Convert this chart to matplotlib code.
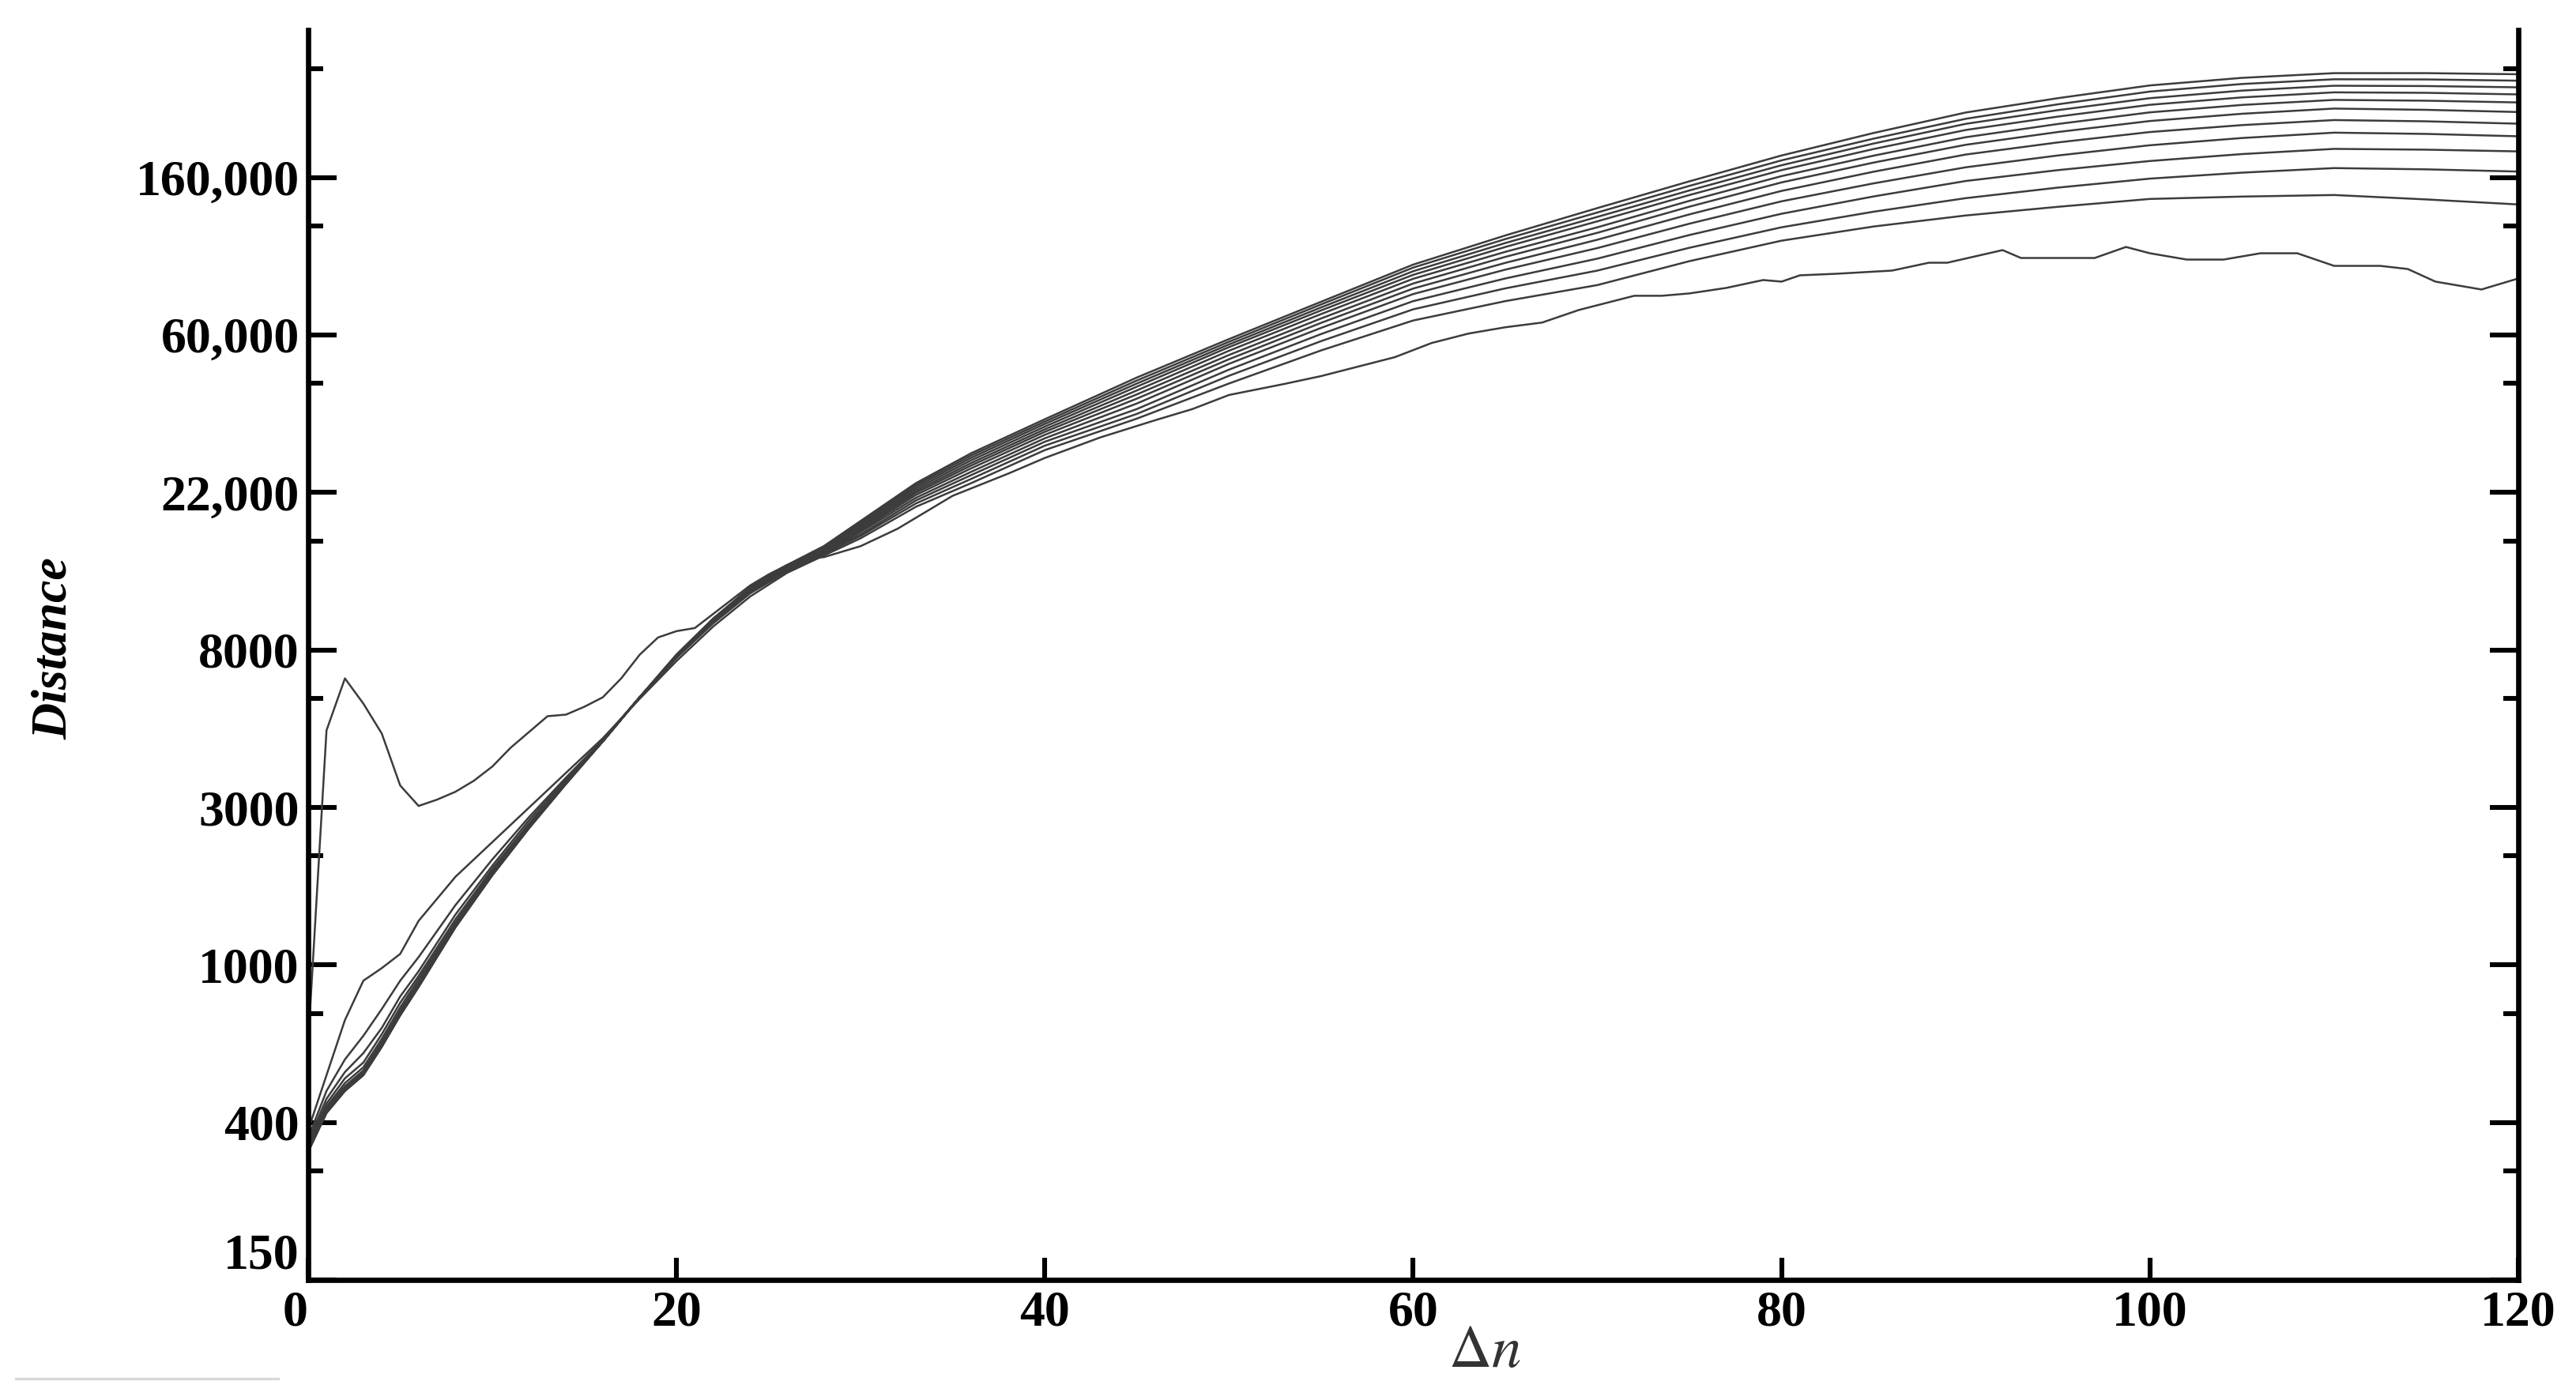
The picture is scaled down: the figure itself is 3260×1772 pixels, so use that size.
import numpy as np
import matplotlib
matplotlib.use("Agg")
import matplotlib.pyplot as plt
from matplotlib.lines import Line2D

plt.rcParams['font.family'] = ['Liberation Serif', 'DejaVu Serif']
plt.rcParams['mathtext.fontset'] = 'stix'

# y values are ln(Distance); the axis is labelled with the rounded e^k values
y_ticks = [5, 6, 7, 8, 9, 10, 11, 12]
y_tick_labels = ['150', '400', '1000', '3000', '8000', '22,000', '60,000', '160,000']
y_minor = [5.693, 6.693, 7.693, 8.693, 9.693, 10.693, 11.693, 12.693]
x_ticks = [0, 20, 40, 60, 80, 100, 120]

# common x grid of the smooth curves
x_smooth = [0, 1, 2, 3, 4, 5, 6, 8, 10, 12, 14, 16, 18, 20, 22, 24, 26, 28,
            30, 33, 36, 40, 45, 50, 55, 60, 65, 70, 75, 80, 85, 90, 95, 100,
            105, 110, 115, 120]

ln_c02 = [5.95, 6.30, 6.65, 6.90, 6.98, 7.07, 7.28, 7.56, 7.78, 8.00, 8.22, 8.44, 8.69, 8.93, 9.15, 9.34, 9.49, 9.60,
          9.71, 9.91, 10.06, 10.27, 10.47, 10.693, 10.903, 11.093, 11.216, 11.318, 11.47, 11.60, 11.69, 11.76,
          11.815, 11.865, 11.88, 11.89, 11.862, 11.83]
ln_c03 = [5.90, 6.20, 6.40, 6.55, 6.72, 6.90, 7.05, 7.38, 7.67, 7.94, 8.19, 8.43, 8.70, 8.95, 9.17, 9.36, 9.50, 9.61,
          9.725, 9.931, 10.087, 10.298, 10.50, 10.742, 10.962, 11.164, 11.297, 11.41, 11.555, 11.685, 11.784,
          11.87, 11.937, 11.994, 12.032, 12.061, 12.053, 12.039]
ln_c04 = [5.88, 6.15, 6.32, 6.44, 6.60, 6.80, 6.96, 7.32, 7.63, 7.92, 8.18, 8.43, 8.70, 8.95, 9.18, 9.37, 9.51, 9.62,
          9.735, 9.95, 10.111, 10.323, 10.531, 10.781, 11.007, 11.216, 11.36, 11.486, 11.636, 11.771, 11.881,
          11.979, 12.048, 12.106, 12.15, 12.183, 12.178, 12.167]
ln_c05 = [5.86, 6.12, 6.28, 6.38, 6.56, 6.76, 6.93, 7.29, 7.61, 7.90, 8.17, 8.42, 8.70, 8.96, 9.18, 9.37, 9.51, 9.62,
          9.75, 9.967, 10.132, 10.345, 10.566, 10.818, 11.046, 11.261, 11.416, 11.553, 11.708, 11.85, 11.964,
          12.066, 12.141, 12.206, 12.252, 12.286, 12.278, 12.263]
ln_c06 = [5.85, 6.10, 6.25, 6.35, 6.53, 6.73, 6.91, 7.27, 7.60, 7.89, 8.17, 8.42, 8.70, 8.96, 9.19, 9.38, 9.52, 9.63,
          9.76, 9.985, 10.154, 10.367, 10.597, 10.847, 11.078, 11.296, 11.459, 11.606, 11.767, 11.916, 12.038,
          12.147, 12.224, 12.29, 12.334, 12.366, 12.358, 12.343]
ln_c07 = [5.84, 6.09, 6.23, 6.33, 6.51, 6.71, 6.89, 7.26, 7.59, 7.89, 8.16, 8.42, 8.70, 8.96, 9.19, 9.38, 9.52, 9.63,
          9.77, 9.999, 10.172, 10.386, 10.624, 10.874, 11.106, 11.328, 11.497, 11.65, 11.816, 11.97, 12.096,
          12.209, 12.29, 12.36, 12.406, 12.439, 12.431, 12.417]
ln_c08 = [5.83, 6.08, 6.22, 6.32, 6.50, 6.70, 6.88, 7.25, 7.58, 7.88, 8.16, 8.42, 8.70, 8.96, 9.19, 9.38, 9.52, 9.64,
          9.78, 10.011, 10.188, 10.402, 10.649, 10.901, 11.134, 11.358, 11.529, 11.685, 11.853, 12.01, 12.14,
          12.257, 12.341, 12.415, 12.462, 12.494, 12.489, 12.478]
ln_c09 = [5.83, 6.07, 6.21, 6.31, 6.49, 6.69, 6.87, 7.25, 7.58, 7.88, 8.16, 8.42, 8.70, 8.96, 9.19, 9.38, 9.53, 9.64,
          9.79, 10.024, 10.205, 10.419, 10.673, 10.924, 11.157, 11.383, 11.56, 11.723, 11.89, 12.048, 12.182,
          12.303, 12.388, 12.463, 12.51, 12.542, 12.539, 12.529]
ln_c10 = [5.82, 6.07, 6.21, 6.31, 6.49, 6.69, 6.87, 7.24, 7.57, 7.87, 8.15, 8.42, 8.70, 8.97, 9.20, 9.39, 9.53, 9.65,
          9.80, 10.037, 10.221, 10.436, 10.693, 10.941, 11.176, 11.406, 11.585, 11.751, 11.919, 12.079, 12.217,
          12.342, 12.429, 12.505, 12.553, 12.584, 12.582, 12.574]
ln_c11 = [5.82, 6.06, 6.20, 6.30, 6.48, 6.68, 6.86, 7.24, 7.57, 7.87, 8.15, 8.42, 8.70, 8.97, 9.20, 9.39, 9.53, 9.65,
          9.81, 10.049, 10.236, 10.451, 10.712, 10.958, 11.195, 11.429, 11.61, 11.779, 11.948, 12.11, 12.248,
          12.374, 12.466, 12.547, 12.595, 12.625, 12.624, 12.616]
ln_c12 = [5.81, 6.06, 6.20, 6.30, 6.48, 6.68, 6.86, 7.24, 7.57, 7.87, 8.15, 8.42, 8.70, 8.97, 9.20, 9.40, 9.54, 9.66,
          9.82, 10.06, 10.25, 10.466, 10.731, 10.975, 11.212, 11.448, 11.633, 11.807, 11.977, 12.141, 12.284,
          12.414, 12.505, 12.586, 12.634, 12.664, 12.664, 12.657]

# the noisy curve (spike at the start, lowest at the end)
x_c01 = [0, 1, 2, 3, 4, 5, 6, 7, 8, 9, 10, 11, 12, 13, 14, 15, 16, 17, 18, 19, 20, 21, 22, 23, 24, 25, 26, 27, 28,
         30, 32, 35, 38, 40, 43, 46, 48, 50, 53, 55, 57, 59, 61, 63, 65, 67, 69, 71, 72, 73.5, 75, 77, 79, 80,
         81, 83, 86, 88, 89, 90.5, 92, 93, 97, 98.7, 100, 102, 104, 106, 108, 110, 112.5, 114, 115.5, 118, 120]
ln_c01 = [6.50, 8.49, 8.82, 8.66, 8.47, 8.14, 8.01, 8.05, 8.10, 8.17, 8.26, 8.38, 8.48, 8.58, 8.59, 8.64, 8.70,
          8.82, 8.97, 9.08, 9.12, 9.14, 9.23, 9.32, 9.41, 9.48, 9.54, 9.58, 9.59,
          9.66, 9.77, 9.98, 10.12, 10.22, 10.35, 10.46, 10.53, 10.62, 10.69, 10.74, 10.80, 10.86, 10.95, 11.01,
          11.05, 11.08, 11.16, 11.22, 11.25, 11.25, 11.265, 11.30, 11.35, 11.34, 11.38, 11.39, 11.41, 11.46,
          11.46, 11.50, 11.54, 11.49, 11.49, 11.56, 11.52, 11.48, 11.48, 11.52, 11.52, 11.44, 11.44, 11.42,
          11.34, 11.29, 11.36]

smooth_curves = [ln_c02, ln_c03, ln_c04, ln_c05, ln_c06, ln_c07, ln_c08, ln_c09, ln_c10, ln_c11, ln_c12]

fig = plt.figure(figsize=(16.3, 8.86), dpi=200)
ax = fig.add_axes([0.1196, 0.0858, 0.858, 0.893])

line_color = '#3c3c3c'
ax.plot(x_c01, ln_c01, color=line_color, lw=0.9)
for ys in smooth_curves:
    ax.plot(x_smooth, ys, color=line_color, lw=0.9)

ax.set_xlim(0, 120)
ax.set_ylim(5.0, 12.94)

ax.spines['top'].set_visible(False)
for side in ['left', 'right', 'bottom']:
    ax.spines[side].set_linewidth(2.4)

ax.set_xticks(x_ticks)
ax.set_yticks(y_ticks, y_tick_labels)
ax.set_yticks(y_minor, minor=True)
ax.tick_params(axis='x', which='major', direction='in', length=10, width=2.2,
               labelsize=23, pad=5, top=False)
ax.tick_params(axis='y', which='major', direction='in', length=13, width=2.2,
               labelsize=23, pad=4, right=True)
ax.tick_params(axis='y', which='minor', direction='in', length=7, width=2.2, right=True)
for lab in ax.get_xticklabels() + ax.get_yticklabels():
    lab.set_fontweight('bold')

# the lowest y label sits above the corner, the "0" left of it
ax.get_yticklabels()[0].set_verticalalignment('bottom')
ax.get_xticklabels()[0].set_horizontalalignment('right')

fig.text(69 / 3260, 1 - 821 / 1772, 'Distance', rotation=90, ha='center', va='center',
         fontsize=23, fontweight='bold', fontstyle='italic')
fig.text(1879 / 3260, 1 - 1712 / 1772, r'$\Delta n$', ha='center', va='center',
         fontsize=27, color='#333333')

# faint rule at the lower left of the page
fig.add_artist(Line2D([20 / 3260, 352 / 3260], [1 - 1745 / 1772, 1 - 1745 / 1772],
                      color='#d8d8d8', lw=1.2))

fig.savefig('out.png', dpi=200)
